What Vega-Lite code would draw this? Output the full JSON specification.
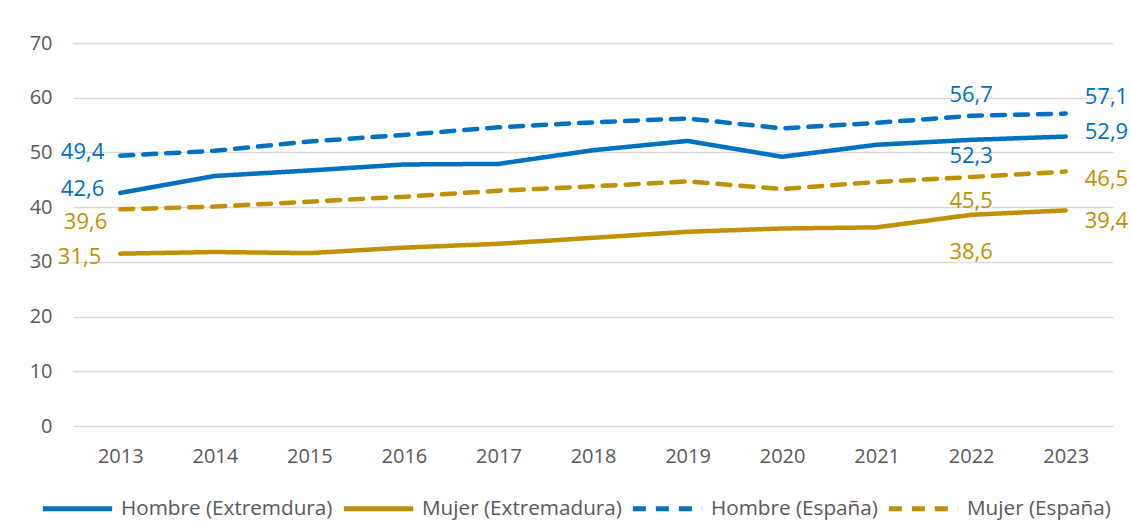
{
  "$schema": "https://vega.github.io/schema/vega-lite/v6.json",
  "width": 1040,
  "height": 383,
  "autosize": {"type": "none"},
  "padding": {"left": 73, "top": 43, "right": 18, "bottom": 106},
  "background": "white",
  "config": {
    "font": "Open Sans",
    "view": {"stroke": null},
    "locale": {"number": {"decimal": ",", "thousands": ".", "grouping": [3], "currency": ["", " €"]}}
  },
  "data": {"values": [
    {"year": "2013", "serie": "Hombre (Extremdura)", "value": 42.6},
    {"year": "2014", "serie": "Hombre (Extremdura)", "value": 45.7},
    {"year": "2015", "serie": "Hombre (Extremdura)", "value": 46.7},
    {"year": "2016", "serie": "Hombre (Extremdura)", "value": 47.8},
    {"year": "2017", "serie": "Hombre (Extremdura)", "value": 47.9},
    {"year": "2018", "serie": "Hombre (Extremdura)", "value": 50.4},
    {"year": "2019", "serie": "Hombre (Extremdura)", "value": 52.1},
    {"year": "2020", "serie": "Hombre (Extremdura)", "value": 49.2},
    {"year": "2021", "serie": "Hombre (Extremdura)", "value": 51.4},
    {"year": "2022", "serie": "Hombre (Extremdura)", "value": 52.3},
    {"year": "2023", "serie": "Hombre (Extremdura)", "value": 52.9},
    {"year": "2013", "serie": "Mujer (Extremadura)", "value": 31.5},
    {"year": "2014", "serie": "Mujer (Extremadura)", "value": 31.8},
    {"year": "2015", "serie": "Mujer (Extremadura)", "value": 31.6},
    {"year": "2016", "serie": "Mujer (Extremadura)", "value": 32.6},
    {"year": "2017", "serie": "Mujer (Extremadura)", "value": 33.3},
    {"year": "2018", "serie": "Mujer (Extremadura)", "value": 34.4},
    {"year": "2019", "serie": "Mujer (Extremadura)", "value": 35.5},
    {"year": "2020", "serie": "Mujer (Extremadura)", "value": 36.1},
    {"year": "2021", "serie": "Mujer (Extremadura)", "value": 36.3},
    {"year": "2022", "serie": "Mujer (Extremadura)", "value": 38.6},
    {"year": "2023", "serie": "Mujer (Extremadura)", "value": 39.4},
    {"year": "2013", "serie": "Hombre (España)", "value": 49.4},
    {"year": "2014", "serie": "Hombre (España)", "value": 50.3},
    {"year": "2015", "serie": "Hombre (España)", "value": 52.0},
    {"year": "2016", "serie": "Hombre (España)", "value": 53.2},
    {"year": "2017", "serie": "Hombre (España)", "value": 54.6},
    {"year": "2018", "serie": "Hombre (España)", "value": 55.5},
    {"year": "2019", "serie": "Hombre (España)", "value": 56.2},
    {"year": "2020", "serie": "Hombre (España)", "value": 54.4},
    {"year": "2021", "serie": "Hombre (España)", "value": 55.4},
    {"year": "2022", "serie": "Hombre (España)", "value": 56.7},
    {"year": "2023", "serie": "Hombre (España)", "value": 57.1},
    {"year": "2013", "serie": "Mujer (España)", "value": 39.6},
    {"year": "2014", "serie": "Mujer (España)", "value": 40.1},
    {"year": "2015", "serie": "Mujer (España)", "value": 41.0},
    {"year": "2016", "serie": "Mujer (España)", "value": 41.9},
    {"year": "2017", "serie": "Mujer (España)", "value": 43.0},
    {"year": "2018", "serie": "Mujer (España)", "value": 43.8},
    {"year": "2019", "serie": "Mujer (España)", "value": 44.7},
    {"year": "2020", "serie": "Mujer (España)", "value": 43.3},
    {"year": "2021", "serie": "Mujer (España)", "value": 44.6},
    {"year": "2022", "serie": "Mujer (España)", "value": 45.5},
    {"year": "2023", "serie": "Mujer (España)", "value": 46.5}
  ]},
  "encoding": {
    "x": {"field": "year", "type": "ordinal", "scale": {"padding": 0.5},
      "axis": {"title": null, "labelAngle": 0, "domain": false, "ticks": false, "labelPadding": 20, "labelFontSize": 20, "labelColor": "#595959"}},
    "y": {"field": "value", "type": "quantitative", "scale": {"domain": [0, 70], "nice": false},
      "axis": {"title": null, "values": [0, 10, 20, 30, 40, 50, 60, 70], "domain": false, "ticks": false, "labelPadding": 21, "labelFontSize": 20, "labelColor": "#595959", "gridColor": "#d9d9d9", "gridWidth": 1.3}}
  },
  "layer": [
    {
      "mark": {"type": "line", "strokeWidth": 4.5, "strokeCap": "round"},
      "encoding": {
        "color": {"field": "serie", "type": "nominal",
          "scale": {"domain": ["Hombre (Extremdura)", "Mujer (Extremadura)", "Hombre (España)", "Mujer (España)"],
                    "range": ["#0070C0", "#BF9000", "#0070C0", "#BF9000"]},
          "legend": {"title": null, "orient": "none", "legendX": -33, "legendY": 428, "direction": "horizontal",
            "symbolType": "stroke", "symbolSize": 4800, "symbolStrokeWidth": 5, "labelFontSize": 20.7, "labelColor": "#595959",
            "columnPadding": 0, "labelOffset": 6, "labelLimit": 400}},
        "strokeDash": {"field": "serie", "type": "nominal",
          "scale": {"domain": ["Hombre (Extremdura)", "Mujer (Extremadura)", "Hombre (España)", "Mujer (España)"],
                    "range": [[1, 0], [1, 0], [13, 10], [13, 10]]}}
      }
    },
    {"transform": [{"filter": "datum.year == '2013' && datum.serie == 'Hombre (España)'"}],
     "mark": {"type": "text", "align": "right", "baseline": "middle", "dx": -16, "dy": -4, "fontSize": 22, "color": "#0070C0"},
     "encoding": {"text": {"field": "value", "type": "quantitative", "format": ".1f"}}},
    {"transform": [{"filter": "datum.year == '2013' && datum.serie == 'Hombre (Extremdura)'"}],
     "mark": {"type": "text", "align": "right", "baseline": "middle", "dx": -16, "dy": -4, "fontSize": 22, "color": "#0070C0"},
     "encoding": {"text": {"field": "value", "type": "quantitative", "format": ".1f"}}},
    {"transform": [{"filter": "datum.year == '2013' && datum.serie == 'Mujer (España)'"}],
     "mark": {"type": "text", "align": "right", "baseline": "middle", "dx": -13, "dy": 13, "fontSize": 22, "color": "#BF9000"},
     "encoding": {"text": {"field": "value", "type": "quantitative", "format": ".1f"}}},
    {"transform": [{"filter": "datum.year == '2013' && datum.serie == 'Mujer (Extremadura)'"}],
     "mark": {"type": "text", "align": "right", "baseline": "middle", "dx": -19, "dy": 3, "fontSize": 22, "color": "#BF9000"},
     "encoding": {"text": {"field": "value", "type": "quantitative", "format": ".1f"}}},
    {"transform": [{"filter": "datum.year == '2022' && datum.serie == 'Hombre (España)'"}],
     "mark": {"type": "text", "align": "center", "baseline": "middle", "dy": -21, "fontSize": 22, "color": "#0070C0"},
     "encoding": {"text": {"field": "value", "type": "quantitative", "format": ".1f"}}},
    {"transform": [{"filter": "datum.year == '2022' && datum.serie == 'Hombre (Extremdura)'"}],
     "mark": {"type": "text", "align": "center", "baseline": "middle", "dy": 16, "fontSize": 22, "color": "#0070C0"},
     "encoding": {"text": {"field": "value", "type": "quantitative", "format": ".1f"}}},
    {"transform": [{"filter": "datum.year == '2022' && datum.serie == 'Mujer (España)'"}],
     "mark": {"type": "text", "align": "center", "baseline": "middle", "dy": 24, "fontSize": 22, "color": "#BF9000"},
     "encoding": {"text": {"field": "value", "type": "quantitative", "format": ".1f"}}},
    {"transform": [{"filter": "datum.year == '2022' && datum.serie == 'Mujer (Extremadura)'"}],
     "mark": {"type": "text", "align": "center", "baseline": "middle", "dy": 37, "fontSize": 22, "color": "#BF9000"},
     "encoding": {"text": {"field": "value", "type": "quantitative", "format": ".1f"}}},
    {"transform": [{"filter": "datum.year == '2023' && datum.serie == 'Hombre (España)'"}],
     "mark": {"type": "text", "align": "left", "baseline": "middle", "dx": 19, "dy": -17, "fontSize": 22, "color": "#0070C0"},
     "encoding": {"text": {"field": "value", "type": "quantitative", "format": ".1f"}}},
    {"transform": [{"filter": "datum.year == '2023' && datum.serie == 'Hombre (Extremdura)'"}],
     "mark": {"type": "text", "align": "left", "baseline": "middle", "dx": 19, "dy": -5, "fontSize": 22, "color": "#0070C0"},
     "encoding": {"text": {"field": "value", "type": "quantitative", "format": ".1f"}}},
    {"transform": [{"filter": "datum.year == '2023' && datum.serie == 'Mujer (España)'"}],
     "mark": {"type": "text", "align": "left", "baseline": "middle", "dx": 19, "dy": 7, "fontSize": 22, "color": "#BF9000"},
     "encoding": {"text": {"field": "value", "type": "quantitative", "format": ".1f"}}},
    {"transform": [{"filter": "datum.year == '2023' && datum.serie == 'Mujer (Extremadura)'"}],
     "mark": {"type": "text", "align": "left", "baseline": "middle", "dx": 19, "dy": 11, "fontSize": 22, "color": "#BF9000"},
     "encoding": {"text": {"field": "value", "type": "quantitative", "format": ".1f"}}}
  ]
}
